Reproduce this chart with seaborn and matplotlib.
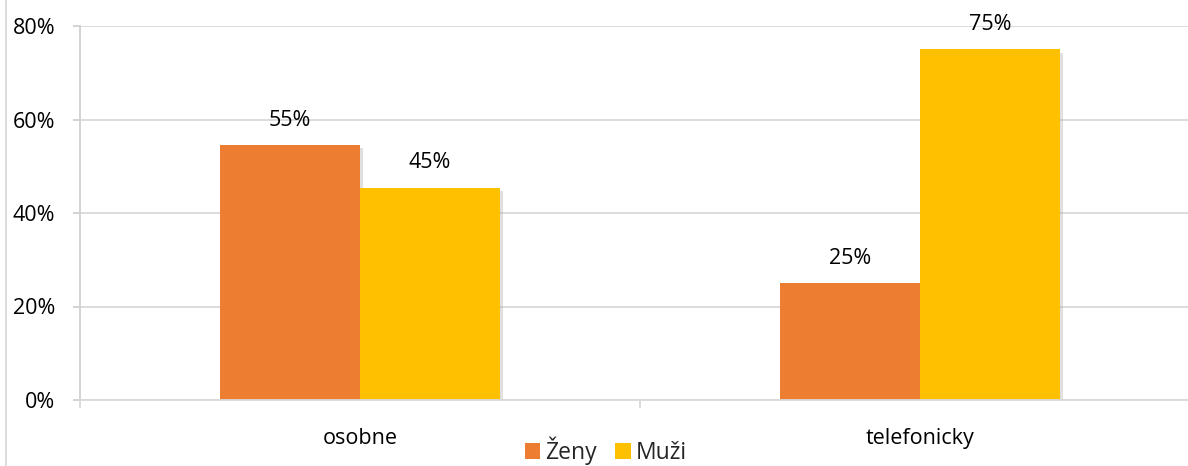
import numpy as np
import pandas as pd
import matplotlib
matplotlib.use("Agg")
import matplotlib.pyplot as plt
import matplotlib.patheffects as pe
from matplotlib.lines import Line2D
from matplotlib.patches import Patch
import seaborn as sns

# ---- data ----
categories = ["osobne", "telefonicky"]
series = ["Ženy", "Muži"]
zeny = [54.55, 25.0]
muzi = [45.45, 75.0]
yticks = [0, 20, 40, 60, 80]
colors = ["#ED7D31", "#FFC000"]

df = pd.DataFrame({
    "kategoria": categories * 2,
    "pohlavie": [series[0]] * 2 + [series[1]] * 2,
    "hodnota": zeny + muzi,
})

sns.set_theme(style="white")
plt.rcParams["font.family"] = ["Open Sans", "DejaVu Sans"]

FS = 15.5
W, H = 1188, 466
fig = plt.figure(figsize=(W / 100, H / 100), dpi=100)
ax = fig.add_axes([80 / W, 66 / H, 1120 / W, 374 / H])

sns.barplot(data=df, x="kategoria", y="hodnota", hue="pohlavie",
            palette=colors, width=0.5, saturation=1, legend=False, ax=ax)

ax.set_xlim(-0.5, 1.5)
ax.set_ylim(0, 80)
ax.set_yticks(yticks)
ax.set_yticklabels([f"{v}%" for v in yticks])
ax.set_xlabel("")
ax.set_ylabel("")

grid_c = "#D9D9D9"
ax.yaxis.grid(True, color=grid_c, lw=1.3)
ax.xaxis.grid(False)
ax.set_axisbelow(True)
for s in ["top", "right"]:
    ax.spines[s].set_visible(False)
ax.spines["left"].set_color("#D0D0D0")
ax.spines["bottom"].set_color(grid_c)
ax.spines["left"].set_linewidth(1.3)
ax.spines["bottom"].set_linewidth(1.3)

ax.tick_params(axis="y", length=5, width=1.3, color="#D0D0D0", pad=13,
               labelsize=FS, labelcolor="black", left=True)
ax.tick_params(axis="x", which="major", length=0, pad=20.5, labelsize=FS,
               labelcolor="black")
ax.set_xticks([-0.5, 0.5, 1.5], minor=True)
ax.tick_params(axis="x", which="minor", length=6, width=1.3, color=grid_c,
               bottom=True)

shadow = [pe.SimplePatchShadow(offset=(2.5, -2.5), shadow_rgbFace="#9a9a9a",
                               alpha=0.3), pe.Normal()]
vals = [zeny, muzi]
for cont, vs in zip(ax.containers, vals):
    for bar, v in zip(cont.patches, vs):
        bar.set_path_effects(shadow)
        bar.set_edgecolor("none")
        ax.annotate(f"{v:.0f}%", (bar.get_x() + bar.get_width() / 2, v),
                    xytext=(0, 14), textcoords="offset points",
                    ha="center", va="baseline", fontsize=FS, color="black")

handles = [Patch(facecolor=c, edgecolor="none") for c in colors]
fig.legend(handles, series, loc="center", bbox_to_anchor=(606 / W, 1 - 451 / H),
           ncol=2, frameon=False, fontsize=16.5, handlelength=0.68,
           handleheight=0.68, handletextpad=0.22, columnspacing=0.8,
           borderaxespad=0, borderpad=0)

fig.add_artist(Line2D([6 / W, 6 / W], [0, 1], color=grid_c, lw=1.3,
                      transform=fig.transFigure))

fig.savefig("out.png", dpi=100)
